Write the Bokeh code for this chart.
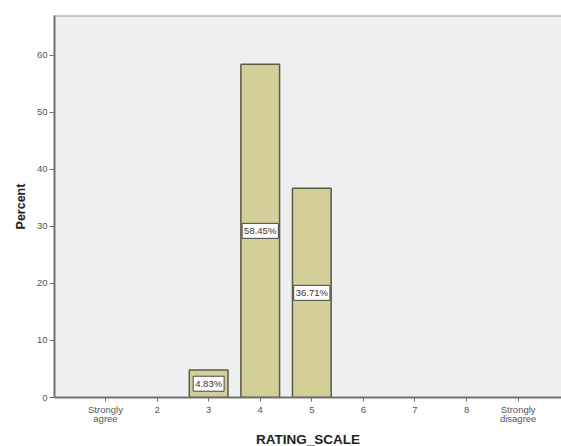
from bokeh.plotting import figure
from bokeh.models import ColumnDataSource, FixedTicker, Span, Range1d
from bokeh.core.properties import value
from bokeh.embed import file_html
from bokeh.resources import INLINE

categories = ["Strongly agree", "2", "3", "4", "5", "6", "7", "8", "Strongly disagree"]
bar_categories = ["3", "4", "5"]
percent = [4.83, 58.45, 36.71]
y_ticks = [0, 10, 20, 30, 40, 50, 60]

xpos = [categories.index(c) + 1 for c in bar_categories]
src = ColumnDataSource(dict(
    x=xpos,
    top=percent,
    mid=[v / 2 for v in percent],
    lbl=["%.2f%%" % v for v in percent],
))

FONT = "Liberation Sans"

p = figure(frame_width=507, frame_height=382, output_backend="svg", toolbar_location=None,
           x_range=Range1d(0.012, 9.84), y_range=Range1d(0, 67),
           min_border_left=54, min_border_top=15, min_border_right=0, min_border_bottom=49)
p.background_fill_color = "#efefef"
p.border_fill_color = "white"
p.outline_line_color = None
p.grid.visible = False

p.vbar(x="x", top="top", width=0.75, source=src, fill_color="#d4cf98",
       line_color="#5a5a48", line_width=1.5)

p.text(x="x", y="mid", text="lbl", source=src, text_align="center",
       text_baseline="middle", text_font=value(FONT), text_font_size="9.5px",
       text_color="#333333", background_fill_color="white",
       border_line_color="#444444", border_line_width=1, padding=2)

p.add_layout(Span(location=67, dimension="width", line_color="#a0a0a0", line_width=2))

xa = p.xaxis[0]
xa.ticker = FixedTicker(ticks=list(range(1, len(categories) + 1)))
xa.major_label_overrides = {i + 1: c.replace(" ", "\n") for i, c in enumerate(categories)}
xa.minor_tick_line_color = None
xa.major_tick_out = 4
xa.major_tick_in = 0
xa.major_label_standoff = 2
xa.major_label_text_font = FONT
xa.major_label_text_font_size = "9.5px"
xa.major_label_text_color = "#555555"
xa.major_label_text_line_height = 0.85
xa.axis_line_color = "#707070"
xa.axis_line_width = 2
xa.major_tick_line_color = "#707070"
xa.axis_label = "RATING_SCALE"
xa.axis_label_text_font = FONT
xa.axis_label_text_font_style = "bold"
xa.axis_label_text_font_size = "13.5px"
xa.axis_label_text_color = "#222222"
xa.axis_label_standoff = 5

ya = p.yaxis[0]
ya.ticker = FixedTicker(ticks=y_ticks)
ya.minor_tick_line_color = None
ya.major_tick_out = 5
ya.major_tick_in = 0
ya.major_label_standoff = 2
ya.major_label_text_font = FONT
ya.major_label_text_font_size = "9.5px"
ya.major_label_text_color = "#555555"
ya.axis_line_color = "#707070"
ya.axis_line_width = 2
ya.major_tick_line_color = "#707070"
ya.axis_label = "Percent"
ya.axis_label_text_font = FONT
ya.axis_label_text_font_style = "bold"
ya.axis_label_text_font_size = "12.5px"
ya.axis_label_text_color = "#222222"
ya.axis_label_standoff = 6

open("out.html", "w").write(file_html(p, INLINE))
